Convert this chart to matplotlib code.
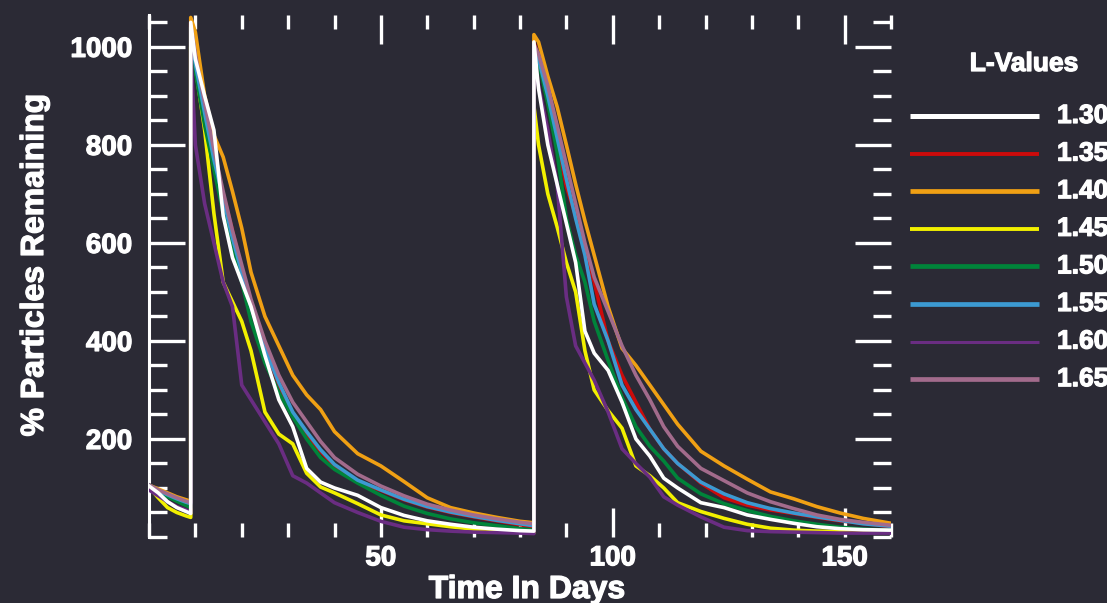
import matplotlib
matplotlib.use("Agg")
import matplotlib.pyplot as plt
import matplotlib.patheffects as pe
from matplotlib.lines import Line2D
from matplotlib.ticker import FixedLocator, MultipleLocator

plt.rcParams['font.family'] = ['Liberation Sans', 'DejaVu Sans']
plt.rcParams['font.weight'] = 'bold'

BG = '#2b2a35'
HEAVY = [pe.withStroke(linewidth=0.9, foreground='white')]

# L-shell values and their plot colours
l_values = ['1.30', '1.35', '1.40', '1.45', '1.50', '1.55', '1.60', '1.65']
line_colors = ['#ffffff', '#cc0b0b', '#f0a014', '#f2f000',
               '#00843a', '#3c9ad2', '#6a2d82', '#a26b8c']

# sample times (days) for the three injection periods
t_first = [0, 2, 4, 6, 8, 9]
t_second = [9, 10, 12, 14, 16, 18, 20, 22, 25, 28, 31, 34, 37, 40,
            45, 50, 55, 60, 65, 70, 75, 80, 83]
t_third = [83, 84, 86, 88, 90, 92, 94, 96, 99, 102, 105, 108, 111, 114,
           119, 124, 129, 134, 139, 144, 149, 154, 160]
t_days = t_first + t_second + t_third

# particles remaining, one list per L-value (first + second + third period)
remaining_130 = ([104, 90, 72, 60, 52, 48]
                 + [1050, 975, 900, 830, 655, 570, 520, 470, 370, 280, 225, 140,
                    112, 100, 85, 60, 44, 33, 26, 20, 16, 13, 12]
                 + [1010, 915, 800, 720, 640, 560, 420, 375, 340, 275, 200, 165,
                    120, 100, 70, 60, 45, 36, 28, 21, 17, 15, 14])
remaining_135 = ([106, 94, 84, 75, 66, 62]
                 + [1050, 960, 857, 765, 700, 625, 545, 480, 390, 310, 250, 210,
                    175, 145, 112, 95, 76, 61, 50, 41, 33, 25, 21]
                 + [1010, 980, 890, 805, 715, 655, 585, 520, 400, 330, 275, 220,
                    180, 150, 110, 80, 65, 55, 48, 40, 33, 28, 21])
remaining_140 = ([106, 98, 90, 82, 76, 73]
                 + [1060, 1030, 900, 820, 775, 705, 630, 540, 450, 390, 330, 290,
                    260, 215, 170, 145, 113, 80, 60, 49, 40, 32, 29]
                 + [1025, 1010, 940, 878, 800, 720, 645, 575, 470, 385, 350, 310,
                    270, 230, 175, 145, 118, 92, 78, 62, 49, 38, 28])
remaining_145 = ([102, 80, 60, 50, 43, 40]
                 + [1000, 960, 830, 660, 520, 480, 440, 380, 255, 210, 190, 130,
                    102, 90, 68, 45, 33, 27, 21, 16, 12, 10, 9]
                 + [880, 800, 700, 633, 560, 500, 380, 300, 258, 222, 145, 125,
                    100, 70, 52, 38, 26, 18, 14, 12, 11, 10, 10])
remaining_150 = ([106, 93, 82, 73, 64, 60]
                 + [1040, 950, 840, 750, 660, 585, 520, 440, 355, 295, 245, 200,
                    162, 138, 110, 85, 63, 48, 37, 29, 23, 17, 14]
                 + [1000, 970, 885, 785, 650, 575, 520, 440, 360, 285, 225, 185,
                    155, 120, 88, 68, 54, 42, 33, 26, 20, 16, 14])
remaining_155 = ([106, 95, 86, 78, 71, 68]
                 + [1040, 965, 865, 770, 690, 610, 540, 470, 385, 315, 255, 215,
                    178, 148, 116, 96, 77, 62, 51, 42, 34, 27, 23]
                 + [1000, 975, 900, 815, 730, 650, 575, 475, 400, 310, 260, 220,
                    180, 150, 112, 88, 70, 58, 49, 41, 34, 27, 22])
remaining_160 = ([96, 84, 72, 62, 55, 50]
                 + [990, 800, 680, 600, 520, 470, 310, 280, 235, 190, 125, 110,
                    90, 70, 50, 32, 20, 15, 12, 10, 9, 8, 7]
                 + [960, 920, 830, 720, 490, 390, 355, 320, 255, 180, 150, 122,
                    82, 65, 41, 20, 13, 11, 10, 9, 8, 8, 8])
remaining_165 = ([106, 96, 88, 80, 73, 70]
                 + [1045, 985, 885, 790, 705, 625, 555, 485, 400, 330, 275, 235,
                    195, 162, 128, 104, 84, 67, 55, 45, 37, 30, 27]
                 + [1005, 985, 920, 840, 760, 680, 600, 530, 460, 390, 330, 280,
                    225, 185, 140, 115, 90, 72, 58, 45, 36, 30, 24])

series = [remaining_130, remaining_135, remaining_140, remaining_145,
          remaining_150, remaining_155, remaining_160, remaining_165]
legend_widths = [3.6, 2.8, 3.4, 2.8, 3.4, 3.4, 2.2, 3.4]

W, H = 1107, 603
fig = plt.figure(figsize=(W / 100, H / 100), dpi=100, facecolor=BG)
ax = fig.add_axes([149 / W, 1 - 537 / H, (891 - 149) / W, (537 - 15) / H])
ax.set_facecolor(BG)

# white curve drawn on top so its jumps stay visible
for vals, color in zip(series, line_colors):
    z = 5 if color == '#ffffff' else 3
    ax.plot(t_days, vals, color=color, lw=2.6, zorder=z)

ax.set_xlim(0, 160)
ax.set_ylim(0, 1065)

for side in ['top', 'right', 'bottom']:
    ax.spines[side].set_visible(False)
ax.spines['left'].set_color('white')
ax.spines['left'].set_linewidth(2.2)

ax.xaxis.set_major_locator(FixedLocator([50, 100, 150]))
ax.xaxis.set_minor_locator(MultipleLocator(10))
ax.yaxis.set_major_locator(FixedLocator([200, 400, 600, 800, 1000]))
ax.yaxis.set_minor_locator(MultipleLocator(50))

ax.tick_params(which='both', direction='in', top=True, right=True,
               colors='white', width=2.4)
ax.tick_params(axis='x', which='major', length=21, pad=6, labelsize=20)
ax.tick_params(axis='x', which='minor', length=10)
ax.tick_params(axis='y', which='major', length=26, pad=12, labelsize=20)
ax.tick_params(axis='y', which='minor', length=13)
for lab in ax.get_xticklabels() + ax.get_yticklabels():
    lab.set_fontweight('bold')
    lab.set_path_effects(HEAVY)

fig.text(527 / W, 1 - 598 / H, 'Time In Days', color='white', fontsize=23,
         fontweight='bold', ha='center', va='baseline', path_effects=HEAVY)
fig.text(35 / W, 1 - 265 / H, '% Particles Remaining', color='white', fontsize=23,
         fontweight='bold', rotation=90, ha='center', va='center',
         path_effects=HEAVY)

# legend drawn by hand on the right
fig.text(1024 / W, 1 - 64 / H, 'L-Values', color='white', fontsize=19,
         fontweight='bold', ha='center', va='center', path_effects=HEAVY)
row0, row_step = 116, 37.6
for i, (lab, color, lw) in enumerate(zip(l_values, line_colors, legend_widths)):
    y = 1 - (row0 + i * row_step) / H
    fig.add_artist(Line2D([910 / W, 1039 / W], [y, y], transform=fig.transFigure,
                          color=color, lw=lw, solid_capstyle='butt'))
    fig.text(1057 / W, y, lab, color='white', fontsize=19, fontweight='bold',
             ha='left', va='center', path_effects=HEAVY)

fig.savefig('out.png', dpi=100, facecolor=BG)
